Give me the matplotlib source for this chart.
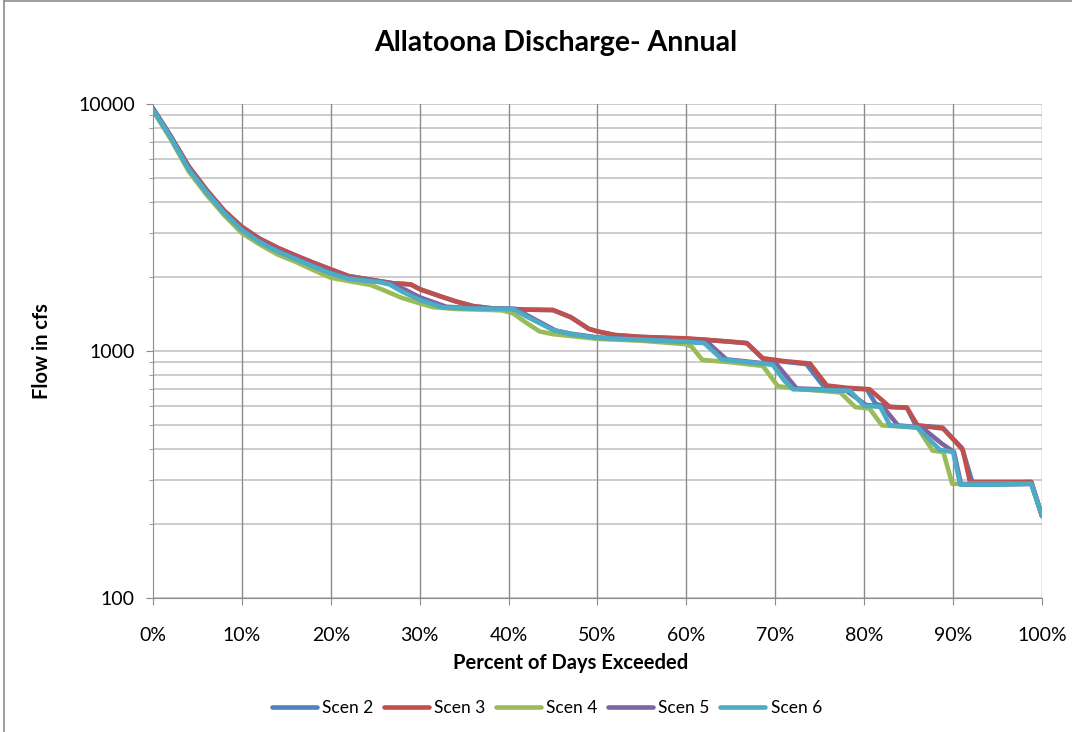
import matplotlib.pyplot as plt
from matplotlib.lines import Line2D
from matplotlib.ticker import FixedLocator, NullFormatter, FuncFormatter

plt.rcParams['font.family'] = ['Lato', 'DejaVu Sans']

# Данные: процент дней превышения и расход (cfs) для каждого сценария
scen2_pct = [0, 2, 4, 6, 8, 10, 12, 14, 16, 18, 20, 22, 25, 27, 29, 30, 32, 34, 36, 38, 40, 42, 45,
             47, 49, 50, 52, 55, 60, 62, 65, 66.8, 68.6, 71, 73.5, 75.3, 76, 78, 80.3, 81.3, 82.7,
             84.8, 85.8, 88.8, 90.3, 91.0, 92.2, 95, 98.8, 100]
scen2_flow = [9600, 7400, 5600, 4500, 3700, 3180, 2850, 2620, 2440, 2280, 2140, 2010, 1930, 1880,
              1860, 1780, 1680, 1590, 1520, 1490, 1480, 1470, 1465, 1370, 1230, 1200, 1160, 1140,
              1120, 1110, 1090, 1075, 930, 905, 885, 730, 715, 705, 700, 610, 595, 590, 500, 490,
              430, 405, 292, 292, 295, 215]

scen3_pct = [0, 2, 4, 6, 8, 10, 12, 14, 16, 18, 20, 22, 25, 27, 29, 30, 32, 34, 36, 38, 40, 42, 45,
             47, 49, 50, 52, 55, 60, 62, 65, 66.8, 68.6, 71, 73.9, 75.8, 78, 80.6, 82.9, 84.8, 86,
             88.9, 90.4, 91.1, 91.9, 95, 98.8, 100]
scen3_flow = [9600, 7400, 5600, 4500, 3700, 3180, 2850, 2620, 2440, 2280, 2140, 2010, 1930, 1880,
              1860, 1780, 1680, 1590, 1520, 1490, 1480, 1470, 1465, 1370, 1230, 1200, 1160, 1140,
              1125, 1112, 1090, 1077, 935, 910, 890, 725, 710, 700, 593, 590, 500, 485, 424, 397,
              295, 295, 295, 215]

scen4_pct = [0, 2, 4, 6, 8, 10, 12, 14, 16, 18, 20, 22, 24.5, 26, 28, 30, 31.5, 34, 37, 39.3, 40.5,
             42, 43.5, 45, 47, 50, 55, 60, 60.6, 61.8, 65, 68.6, 70.3, 73, 77.3, 79, 80.6, 82, 86,
             87.7, 88.9, 89.9, 95, 98.8, 100]
scen4_flow = [9400, 7200, 5350, 4300, 3550, 3000, 2700, 2460, 2300, 2130, 1980, 1920, 1850, 1760,
              1640, 1560, 1505, 1480, 1470, 1460, 1420, 1300, 1200, 1170, 1150, 1120, 1100, 1065,
              1040, 920, 900, 870, 720, 700, 680, 593, 585, 500, 490, 395, 390, 290, 290, 290, 215]

scen5_pct = [0, 2, 4, 6, 8, 10, 12, 14, 16, 18, 20, 22, 25.5, 27, 28.5, 30, 33, 36, 40.8, 42.5, 45.3,
             47, 50, 55, 60, 62.5, 64.5, 67, 70.2, 72.4, 75, 78, 80.2, 82.1, 83.8, 86.5, 88.8,
             90.1, 90.9, 95, 98.8, 100]
scen5_flow = [9500, 7350, 5500, 4420, 3640, 3100, 2780, 2550, 2380, 2220, 2080, 1970, 1910, 1860,
              1760, 1650, 1510, 1490, 1480, 1370, 1210, 1175, 1135, 1112, 1092, 1075, 925, 905,
              880, 705, 700, 690, 605, 595, 500, 490, 420, 390, 288, 288, 290, 215]

scen6_pct = [0, 2, 4, 6, 8, 10, 12, 14, 16, 18, 20, 22, 25.5, 26.6, 28, 30, 32.6, 36, 40.5, 42, 45,
             47, 50, 55, 60, 62, 64, 67, 69.7, 71, 72, 75, 78.4, 80, 81.8, 82.9, 86, 88.5, 90,
             90.8, 95, 98.8, 100]
scen6_flow = [9500, 7300, 5450, 4400, 3620, 3080, 2760, 2530, 2360, 2200, 2060, 1960, 1900, 1860,
              1740, 1610, 1500, 1485, 1480, 1380, 1216, 1172, 1130, 1110, 1090, 1077, 925, 900,
              880, 760, 700, 695, 690, 600, 595, 500, 490, 398, 390, 288, 288, 290, 215]

names = ['Scen 2', 'Scen 3', 'Scen 4', 'Scen 5', 'Scen 6']
colors = ['#4F81BD', '#C0504D', '#9BBB59', '#8064A2', '#4BACC6']
series = [(scen2_pct, scen2_flow), (scen3_pct, scen3_flow), (scen4_pct, scen4_flow),
          (scen5_pct, scen5_flow), (scen6_pct, scen6_flow)]

fig = plt.figure(figsize=(10.72, 7.32), dpi=100)
ax = fig.add_axes([0.1427, 0.183, 0.8293, 0.675])

# Сетка: вертикальные линии темнее, горизонтальные светлее
for s in [100, 1000, 10000]:
    ax.axhline(s, color='#c8c8c8', lw=1.3, zorder=0)
for dec in [100, 1000]:
    for k in range(2, 10):
        ax.axhline(dec * k, color='#c8c8c8', lw=1.3, zorder=0)
for p in range(10, 101, 10):
    ax.axvline(p, color='#8c8c8c', lw=1.0, zorder=0)

for (px, fy), name, c in zip(series, names, colors):
    ax.plot(px, fy, color=c, lw=3.3, label=name, solid_capstyle='round', zorder=3)

ax.set_yscale('log')
ax.set_ylim(100, 10000)
ax.set_xlim(0, 100)
ax.yaxis.set_major_locator(FixedLocator([100, 1000, 10000]))
ax.yaxis.set_major_formatter(FuncFormatter(lambda v, p: '%d' % v))
ax.yaxis.set_minor_locator(FixedLocator([d * k for d in [100, 1000] for k in range(2, 10)]))
ax.yaxis.set_minor_formatter(NullFormatter())
ax.set_xticks(range(0, 101, 10))
ax.set_xticklabels(['%d%%' % p for p in range(0, 101, 10)])

for side in ['top', 'right']:
    ax.spines[side].set_visible(False)
for side in ['left', 'bottom']:
    ax.spines[side].set_color('#8c8c8c')
ax.tick_params(axis='both', which='major', length=5, color='#8c8c8c', labelsize=14)
ax.tick_params(axis='x', which='major', pad=16)
ax.tick_params(axis='y', which='major', pad=8)
ax.tick_params(axis='y', which='minor', length=3, color='#8c8c8c')

fig.text(0.518, 0.941, 'Allatoona Discharge- Annual', fontsize=20.5, fontweight='bold',
         ha='center', va='center')
ax.set_xlabel('Percent of Days Exceeded', fontsize=14.5, fontweight='bold')
ax.xaxis.set_label_coords(0.47, -0.111)
ax.set_ylabel('Flow in cfs', fontsize=14.5, fontweight='bold')
ax.yaxis.set_label_coords(-0.114, 0.5)

ax.legend(loc='upper center', bbox_to_anchor=(0.443, -0.174), ncol=5, frameon=False,
          fontsize=12.5, handlelength=2.6, handletextpad=0.3, columnspacing=0.6)

# Рамка диаграммы
fig.add_artist(Line2D([0.004, 1.0], [0.999, 0.999], color='#8c8c8c', lw=1.2))
fig.add_artist(Line2D([0.004, 0.004], [0.0, 0.999], color='#8c8c8c', lw=1.2))

fig.savefig('out.png', dpi=100)
